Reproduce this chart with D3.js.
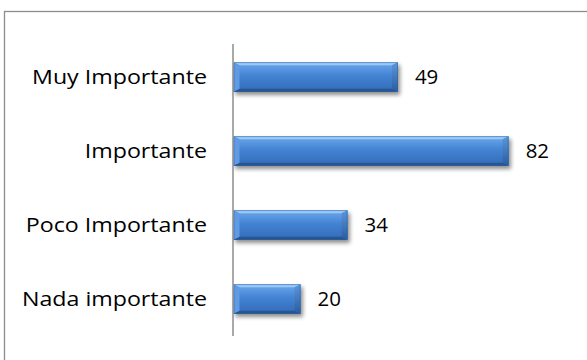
<!DOCTYPE html>
<html>
<head>
<meta charset="utf-8">
<script src="https://cdn.jsdelivr.net/npm/d3@7"></script>
<style>
  html, body { margin: 0; padding: 0; background: #fff; }
  svg { display: block; }
  text { font-family: "Open Sans", "Noto Sans", sans-serif; fill: #000; }
</style>
</head>
<body>
<svg id="chart" width="587" height="360"></svg>
<script>
// Categories and their counts, top to bottom
const categories = ["Muy Importante", "Importante", "Poco Importante", "Nada importante"];
const values = [49, 82, 34, 20];

const svg = d3.select("#chart");
const W = 587, H = 360;

// Chart-area frame (runs off the right and bottom edges)
svg.append("rect")
  .attr("x", 4.5).attr("y", 11.5)
  .attr("width", W + 10).attr("height", H + 10)
  .attr("fill", "#fff")
  .attr("stroke", "#8c8c8c")
  .attr("stroke-width", 1.3);

const x = d3.scaleLinear().domain([0, 90]).range([233.5, 535.5]);
const y = d3.scaleBand().domain(categories).range([40, 336])
  .paddingInner(0.6).paddingOuter(0.3);

const defs = svg.append("defs");

// Soft drop shadow below each bar
const f = defs.append("filter").attr("id", "shadow")
  .attr("x", "-10%").attr("y", "-30%").attr("width", "130%").attr("height", "190%");
f.append("feGaussianBlur").attr("in", "SourceAlpha").attr("stdDeviation", 2).attr("result", "b");
f.append("feOffset").attr("in", "b").attr("dx", 2).attr("dy", 3).attr("result", "o");
f.append("feComponentTransfer").attr("in", "o").attr("result", "s")
  .append("feFuncA").attr("type", "linear").attr("slope", 0.45);
const m = f.append("feMerge");
m.append("feMergeNode").attr("in", "s");
m.append("feMergeNode").attr("in", "SourceGraphic");

// Vertical gradient for the bar face
const g1 = defs.append("linearGradient").attr("id", "face")
  .attr("x1", 0).attr("y1", 0).attr("x2", 0).attr("y2", 1);
[[0, "#6ea9ee"], [0.45, "#4483d3"], [1, "#306bb9"]].forEach(([o, c]) =>
  g1.append("stop").attr("offset", o).attr("stop-color", c));

const g2 = defs.append("linearGradient").attr("id", "rightFace")
  .attr("x1", 0).attr("y1", 0).attr("x2", 0).attr("y2", 1);
[[0, "#5b96dc"], [1, "#2a5c9e"]].forEach(([o, c]) =>
  g2.append("stop").attr("offset", o).attr("stop-color", c));

const bev = 6;
const bars = svg.append("g").selectAll("g")
  .data(categories.map((c, i) => ({ c, v: values[i] })))
  .join("g")
  .attr("filter", "url(#shadow)");

bars.each(function (d) {
  const g = d3.select(this);
  const x0 = x(0), x1 = x(d.v), y0 = y(d.c), y1 = y(d.c) + y.bandwidth();
  const pts = a => a.map(p => p.join(",")).join(" ");
  // Face
  g.append("rect").attr("x", x0).attr("y", y0).attr("width", x1 - x0).attr("height", y1 - y0)
    .attr("fill", "url(#face)");
  // Top bevel
  g.append("polygon").attr("points", pts([[x0, y0], [x1, y0], [x1 - bev, y0 + 3], [x0 + bev, y0 + 3]]))
    .attr("fill", "#9ccaf7");
  // Bottom bevel
  g.append("polygon").attr("points", pts([[x0, y1], [x1, y1], [x1 - bev, y1 - 3], [x0 + bev, y1 - 3]]))
    .attr("fill", "#26558f");
  // Left bevel
  g.append("polygon").attr("points", pts([[x0, y0], [x0 + bev, y0 + 3], [x0 + bev, y1 - 3], [x0, y1]]))
    .attr("fill", "#5e9ae2");
  // Right bevel
  g.append("polygon").attr("points", pts([[x1, y0], [x1 - bev, y0 + 3], [x1 - bev, y1 - 3], [x1, y1]]))
    .attr("fill", "url(#rightFace)");
  // Thin dark outline
  g.append("rect").attr("x", x0 + 0.5).attr("y", y0 + 0.5).attr("width", x1 - x0 - 1).attr("height", y1 - y0 - 1)
    .attr("fill", "none").attr("stroke", "#2b5d9c").attr("stroke-width", 0.8).attr("stroke-opacity", 0.6);
});

// Category axis line
svg.append("line")
  .attr("x1", 233).attr("x2", 233).attr("y1", 44).attr("y2", 336)
  .attr("stroke", "#8c8c8c").attr("stroke-width", 1.5);

const fs = 19.5, sx = 1.19;

// Category labels
svg.append("g").selectAll("text")
  .data(categories)
  .join("text")
  .attr("text-anchor", "end")
  .attr("font-size", fs)
  .attr("transform", d => `translate(207,${y(d) + y.bandwidth() / 2}) scale(${sx},1)`)
  .attr("dy", "0.36em")
  .text(d => d);

// Value labels
svg.append("g").selectAll("text")
  .data(values)
  .join("text")
  .attr("font-size", fs)
  .attr("transform", (d, i) => `translate(${x(d) + 17},${y(categories[i]) + y.bandwidth() / 2}) scale(1.05,1)`)
  .attr("dy", "0.36em")
  .text(d => d);
</script>
</body>
</html>
